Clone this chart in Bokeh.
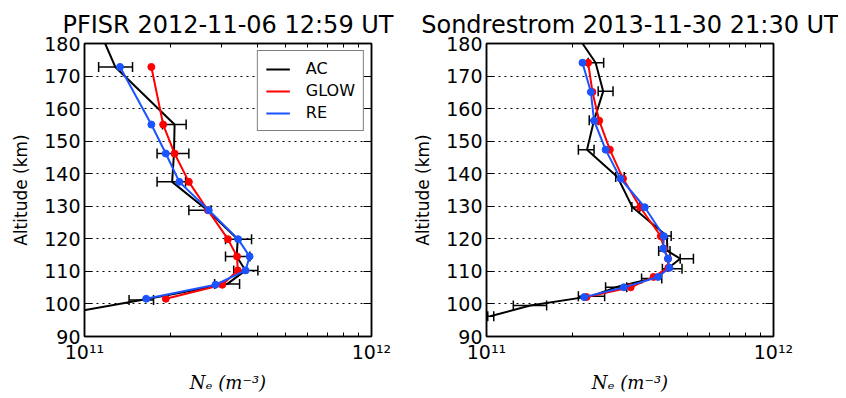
from bokeh.plotting import figure
from bokeh.layouts import row
from bokeh.models import (FixedTicker, LogAxis, LinearAxis, Whisker, ColumnDataSource,
                          Legend, LegendItem, TeeHead, Range1d)
from bokeh.embed import file_html
from bokeh.resources import INLINE

# ---------------- data: PFISR 2012-11-06 12:59 UT ----------------
pf_ac_alt = [180.0, 172.8, 155.1, 146.2, 137.5, 128.8, 119.9, 114.6, 110.3, 106.1, 101.2, 97.0]
pf_ac_ne = [1.18e11, 1.28e11, 2.06e11, 2.05e11, 2.02e11, 2.68e11, 3.42e11, 3.39e11, 3.64e11, 3.14e11, 1.58e11, 0.85e11]
pf_err_alt = [172.8, 155.1, 146.2, 137.5, 128.8, 119.9, 114.6, 110.3, 106.1, 101.2]
pf_err_lo = [1.12e11, 1.87e11, 1.79e11, 1.79e11, 2.31e11, 3.10e11, 3.10e11, 3.31e11, 2.84e11, 1.43e11]
pf_err_hi = [1.47e11, 2.26e11, 2.31e11, 2.25e11, 2.76e11, 3.82e11, 3.77e11, 4.02e11, 3.47e11, 1.74e11]
pf_mod_alt = [172.8, 155.1, 146.2, 137.5, 128.8, 119.9, 114.6, 110.3, 105.9, 101.6]
pf_glow_ne = [1.71e11, 1.88e11, 2.06e11, 2.31e11, 2.69e11, 3.16e11, 3.40e11, 3.42e11, 3.02e11, 1.92e11]
pf_re_ne = [1.33e11, 1.71e11, 1.92e11, 2.14e11, 2.71e11, 3.43e11, 3.76e11, 3.64e11, 2.86e11, 1.64e11]

# ---------------- data: Sondrestrom 2013-11-30 21:30 UT ----------------
so_ac_alt = [180.0, 174.1, 165.3, 156.4, 147.4, 139.0, 129.8, 120.9, 116.3, 113.9, 110.8, 107.8, 105.1, 102.4, 99.5, 96.2]
so_ac_ne = [2.16e11, 2.40e11, 2.55e11, 2.37e11, 2.24e11, 2.86e11, 3.22e11, 4.25e11, 4.27e11, 4.73e11, 4.27e11, 3.78e11, 2.82e11, 2.32e11, 1.42e11, 1.03e11]
so_err_alt = [174.1, 165.3, 156.4, 147.4, 139.0, 129.8, 120.9, 116.3, 113.9, 110.8, 107.8, 105.1, 102.4, 99.5, 96.2]
so_err_lo = [2.26e11, 2.45e11, 2.28e11, 2.09e11, 2.82e11, 3.21e11, 4.07e11, 3.98e11, 4.73e11, 4.10e11, 3.47e11, 2.60e11, 2.09e11, 1.24e11, 1.01e11]
so_err_hi = [2.56e11, 2.76e11, 2.45e11, 2.37e11, 3.02e11, 3.42e11, 4.40e11, 4.36e11, 5.26e11, 4.80e11, 4.08e11, 3.08e11, 2.58e11, 1.62e11, 1.06e11]
so_mod_alt = [174.1, 165.1, 156.3, 147.4, 138.5, 129.7, 120.8, 117.0, 113.9, 111.1, 108.3, 105.1, 102.1]
so_glow_ne = [2.26e11, 2.34e11, 2.47e11, 2.69e11, 2.99e11, 3.43e11, 4.05e11, 4.15e11, 4.29e11, 4.30e11, 3.82e11, 3.18e11, 2.23e11]
so_re_ne = [2.16e11, 2.31e11, 2.37e11, 2.60e11, 2.93e11, 3.56e11, 4.15e11, 4.13e11, 4.29e11, 4.34e11, 3.96e11, 3.01e11, 2.19e11]

titles = ["PFISR 2012-11-06 12:59 UT", "Sondrestrom 2013-11-30 21:30 UT"]
x_ticks = [1e11, 1e12]
x_minor = [2e11, 3e11, 4e11, 5e11, 6e11, 7e11, 8e11, 9e11]
x_tick_labels = {1e11: "10\u00b9\u00b9", 1e12: "10\u00b9\u00b2"}
y_ticks = [90, 100, 110, 120, 130, 140, 150, 160, 170, 180]
legend_labels = ["AC", "GLOW", "RE"]

FONT = "DejaVu Sans"
BLACK = "black"
RED = "#ff0000"
BLUE = "#1a53ff"


def style_axis(ax):
    ax.axis_line_color = BLACK
    ax.axis_line_width = 1.5
    ax.major_tick_in = 8
    ax.major_tick_out = 0
    ax.minor_tick_in = 4
    ax.minor_tick_out = 0
    ax.major_tick_line_color = BLACK
    ax.minor_tick_line_color = BLACK
    ax.major_label_text_font = FONT
    ax.major_label_text_font_size = "19px"
    ax.major_label_text_color = BLACK
    ax.axis_label_text_font = FONT
    ax.axis_label_text_font_size = "17px"
    ax.axis_label_text_font_style = "normal"
    ax.axis_label_text_color = BLACK


def make_panel(title, ac_alt, ac_ne, e_alt, e_lo, e_hi, m_alt, glow, re,
               border_left, border_right, legend):
    p = figure(x_axis_type="log", frame_width=287, frame_height=293,
               x_range=Range1d(1e11, 1e12), y_range=Range1d(90, 180),
               output_backend="svg", toolbar_location=None,
               min_border_left=border_left, min_border_right=border_right,
               min_border_top=43, min_border_bottom=50,
               title=title)
    p.title.text_font = FONT
    p.title.text_font_size = "24px"
    p.title.text_font_style = "normal"
    p.title.align = "center"
    p.title.text_color = BLACK
    p.outline_line_color = BLACK
    p.outline_line_width = 1.5
    p.background_fill_color = "white"
    p.border_fill_color = "white"

    xt = FixedTicker(ticks=x_ticks, minor_ticks=x_minor)
    yt = FixedTicker(ticks=y_ticks)
    p.xaxis.ticker = xt
    p.yaxis.ticker = yt
    p.xaxis.major_label_overrides = x_tick_labels
    p.xaxis.axis_label = "N\u2091 (m\u207b\u00b3)"
    p.yaxis.axis_label = "Altitude (km)"
    style_axis(p.xaxis[0])
    style_axis(p.yaxis[0])
    p.xaxis.axis_label_text_font = "DejaVu Serif"
    p.xaxis.axis_label_text_font_style = "italic"
    p.xaxis.axis_label_text_font_size = "18px"
    p.xaxis.major_label_standoff = 4
    p.xaxis.axis_label_standoff = 6
    p.yaxis.major_label_standoff = 4
    p.yaxis.axis_label_standoff = 10

    top = LogAxis(ticker=FixedTicker(ticks=x_ticks, minor_ticks=x_minor),
                  major_label_overrides={1e11: "", 1e12: ""})
    style_axis(top)
    p.add_layout(top, "above")
    right = LinearAxis(ticker=FixedTicker(ticks=y_ticks),
                       major_label_overrides={t: "" for t in y_ticks})
    style_axis(right)
    p.add_layout(right, "right")

    p.xgrid.visible = False
    p.ygrid.ticker = yt
    p.ygrid.grid_line_color = BLACK
    p.ygrid.grid_line_dash = "2 4"
    p.ygrid.grid_line_width = 1

    # AC with error bars
    esrc = ColumnDataSource(dict(alt=e_alt, lo=e_lo, hi=e_hi))
    w = Whisker(base="alt", lower="lo", upper="hi", dimension="width", source=esrc,
                line_color=BLACK, line_width=1.5,
                lower_head=TeeHead(size=10, line_color=BLACK, line_width=1.5),
                upper_head=TeeHead(size=10, line_color=BLACK, line_width=1.5))
    p.add_layout(w)
    r_ac = p.line(ac_ne, ac_alt, line_color=BLACK, line_width=2)

    r_glow = p.line(glow, m_alt, line_color=RED, line_width=2)
    p.scatter(glow, m_alt, size=7, fill_color=RED, line_color=RED)
    r_re = p.line(re, m_alt, line_color=BLUE, line_width=2)
    p.scatter(re, m_alt, size=7, fill_color=BLUE, line_color=BLUE)

    if legend:
        lg = Legend(items=[LegendItem(label=legend_labels[0], renderers=[r_ac]),
                           LegendItem(label=legend_labels[1], renderers=[r_glow]),
                           LegendItem(label=legend_labels[2], renderers=[r_re])],
                    location="top_right", margin=7, padding=8, spacing=3,
                    label_height=18, glyph_height=18, glyph_width=24,
                    label_standoff=16, label_text_font=FONT,
                    label_text_font_size="16px", label_text_color=BLACK,
                    border_line_color=BLACK, border_line_width=1.5,
                    background_fill_alpha=1.0)
        p.add_layout(lg, "center")
    return p


p1 = make_panel(titles[0], pf_ac_alt, pf_ac_ne, pf_err_alt, pf_err_lo, pf_err_hi,
                pf_mod_alt, pf_glow_ne, pf_re_ne, 84, 39, True)
p2 = make_panel(titles[1], so_ac_alt, so_ac_ne, so_err_alt, so_err_lo, so_err_hi,
                so_mod_alt, so_glow_ne, so_re_ne, 76, 65, False)

layout = row(p1, p2)
open("out.html", "w").write(file_html(layout, INLINE))
